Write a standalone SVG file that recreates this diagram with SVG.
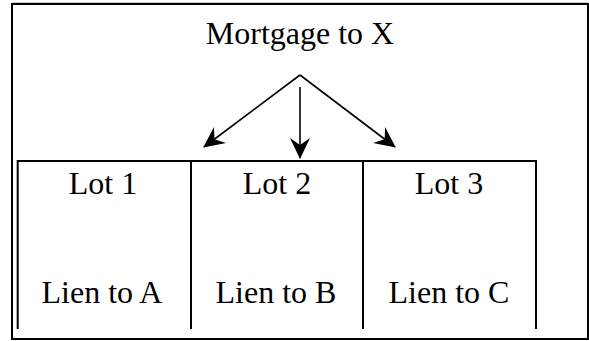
<svg xmlns="http://www.w3.org/2000/svg" width="589" height="341" viewBox="0 0 589 341">
  <style>
    .label { font-family: "Liberation Serif", "Times New Roman", serif; font-size: 32px; fill: #000; text-anchor: middle; }
    .frame { fill: none; stroke: #000; stroke-width: 2; }
    .rule { stroke: #000; stroke-width: 2; fill: none; }
    .wire { stroke: #000; stroke-width: 1.6; fill: none; }
  </style>
  <defs>
    <marker id="head" markerUnits="userSpaceOnUse" markerWidth="24" markerHeight="24" viewBox="-22 -12 24 24" refX="0" refY="0" orient="auto">
      <path d="M1,0 L-20,-10 L-13,0 L-20,10 Z" fill="#000"/>
    </marker>
  </defs>

  <rect width="589" height="341" fill="#fff"/>

  <!-- outer border -->
  <line x1="12" y1="2.5" x2="588" y2="2.5" stroke="#cfcfcf" stroke-width="1"/>
  <rect class="frame" x="12" y="4" width="576" height="335"/>

  <!-- title -->
  <g id="mortgage">
    <text class="label" x="300" y="44">Mortgage to X</text>
  </g>

  <!-- lot table -->
  <g id="table">
    <line class="rule" x1="17" y1="161" x2="537" y2="161"/>
    <line class="rule" x1="17.7" y1="160" x2="17.7" y2="329"/>
    <line class="rule" x1="191" y1="160" x2="191" y2="329"/>
    <line class="rule" x1="363" y1="160" x2="363" y2="329"/>
    <line class="rule" x1="536" y1="160" x2="536" y2="329"/>
  </g>

  <g id="lot1">
    <text class="label" x="103" y="194">Lot 1</text>
    <text class="label" x="102" y="303">Lien to A</text>
  </g>
  <g id="lot2">
    <text class="label" x="277" y="194">Lot 2</text>
    <text class="label" x="276" y="303">Lien to B</text>
  </g>
  <g id="lot3">
    <text class="label" x="449" y="194">Lot 3</text>
    <text class="label" x="449" y="303">Lien to C</text>
  </g>

  <!-- connectors -->
  <g id="connectors">
    <path class="wire" d="M300,75 L204,147" marker-end="url(#head)"/>
    <path class="wire" d="M300,75 L395,147" marker-end="url(#head)"/>
    <path class="wire" d="M300,87 L300,158" marker-end="url(#head)"/>
  </g>
</svg>
